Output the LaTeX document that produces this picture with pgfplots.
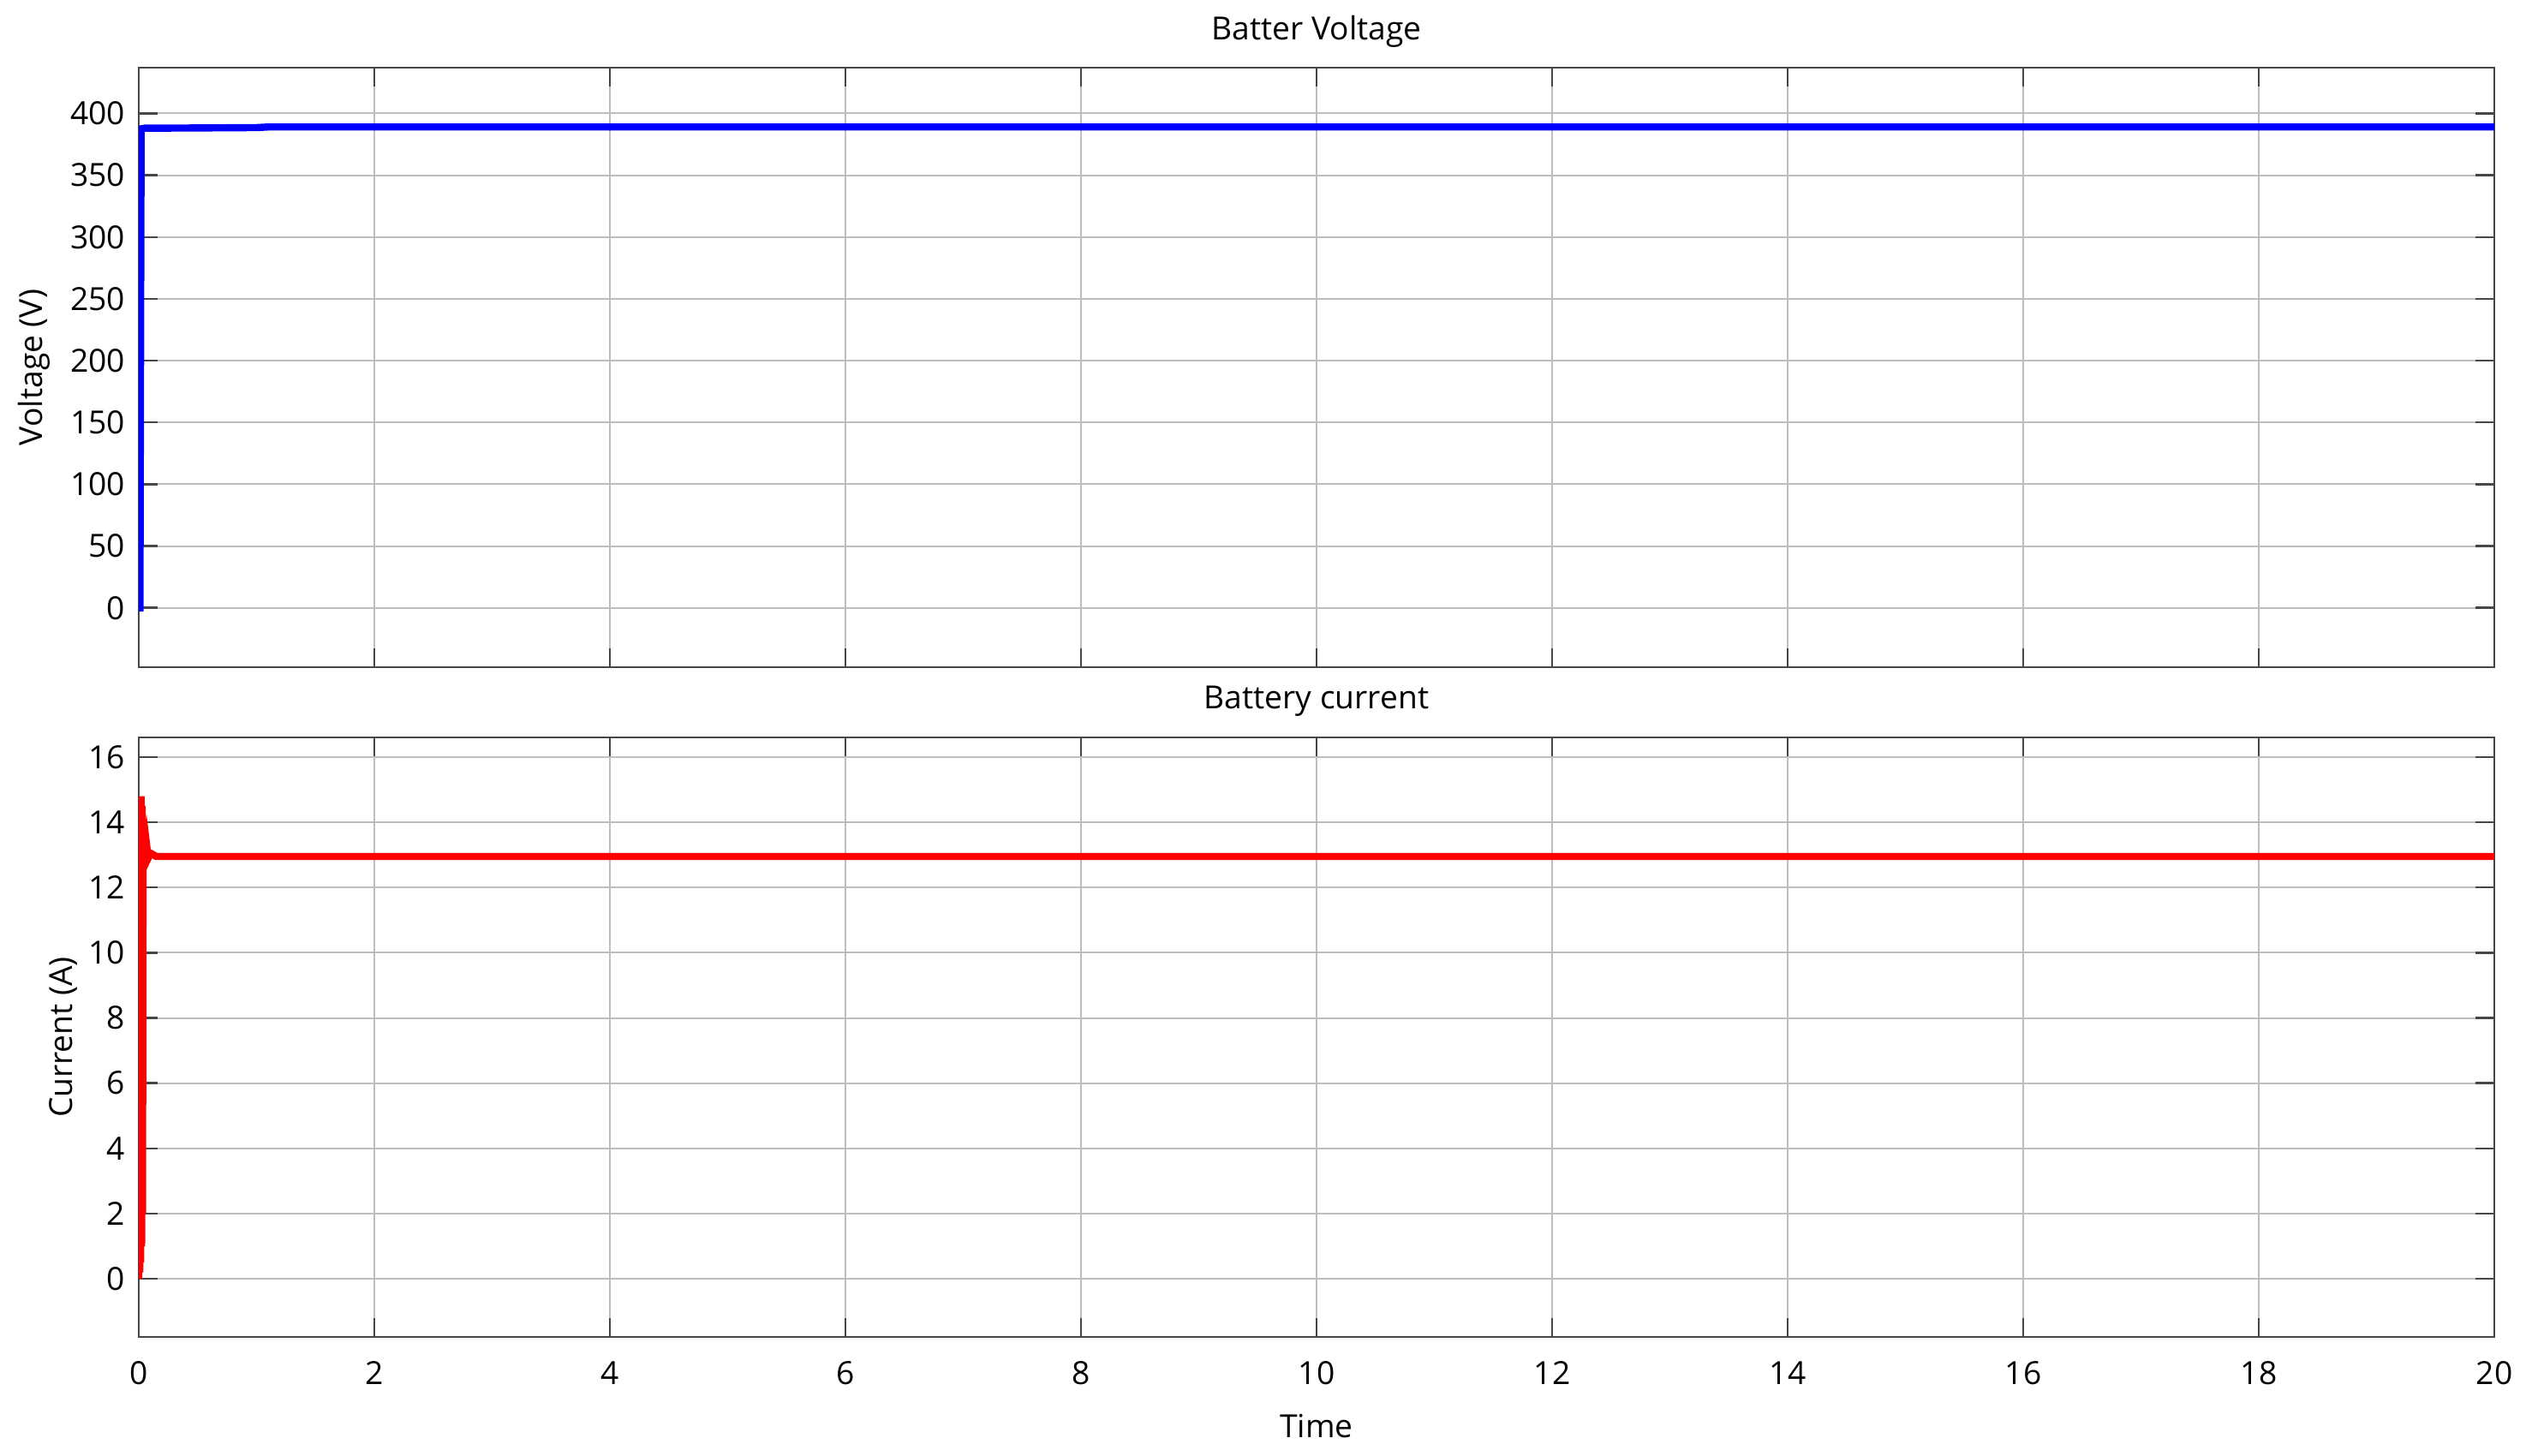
\documentclass[border=0pt]{standalone}
\usepackage{fontspec}
\setmainfont{Open Sans}
\usepackage{pgfplots}
\pgfplotsset{compat=1.18}

\definecolor{gridgray}{RGB}{190,190,190}
\definecolor{framegray}{RGB}{70,70,70}

\pgfplotsset{
  simstyle/.style={
    width=687.5pt, height=175pt, scale only axis,
    xmin=0, xmax=20,
    xtick={0,2,...,20},
    grid=major,
    major grid style={gridgray, line width=0.5pt},
    axis line style={framegray, line width=0.6pt},
    tick style={framegray, line width=0.6pt},
    tick align=inside, major tick length=5.5pt,
    /pgf/number format/assume math mode=true,
    tick label style={font=\fontsize{9.3}{11}\selectfont},
    label style={font=\fontsize{9.3}{11}\selectfont},
    title style={font=\fontsize{9.3}{11}\selectfont, at={(axis description cs:0.5,1)}, anchor=center, yshift=4.5pt},
    xticklabel style={anchor=center, yshift=-10.5pt},
    yticklabel style={xshift=-0.5pt},
  }
}

\begin{document}
\begin{tikzpicture}
\useasboundingbox (-40.5pt,-34.75pt) rectangle (696.75pt,390.25pt);

% voltage
\begin{axis}[simstyle,
  at={(0pt,195.5pt)}, anchor=south west,
  ymin=-48, ymax=437,
  ytick={0,50,...,400},
  xticklabels={},
  title={Batter Voltage},
  ylabel={Voltage (V)},
  ylabel style={at={(axis description cs:-0.0445,0.5)}, anchor=center},
]
\addplot[blue, line width=2.1pt] coordinates {
  (0,0) (0.01,0) (0.015,200) (0.02,387.5) (0.05,388) (0.5,388.2)
  (1.0,388.5) (1.1,389) (5,389) (10,389) (15,389) (20,389)
};
\end{axis}

% current
\begin{axis}[simstyle,
  at={(0pt,0pt)}, anchor=south west,
  ymin=-1.78, ymax=16.6,
  ytick={0,2,...,16},
  title={Battery current},
  xlabel={Time},
  ylabel={Current (A)},
  xlabel style={at={(axis description cs:0.5,-0.1486)}, anchor=center},
  ylabel style={at={(axis description cs:-0.032,0.5)}, anchor=center},
]
\addplot[red, line width=2.1pt] coordinates {
  (0,0) (0.004,14.8) (0.008,0.2) (0.012,14.8) (0.016,0.5) (0.02,14.8)
  (0.024,1) (0.028,14.5) (0.032,2) (0.036,14.0) (0.04,12.6) (0.045,13.4)
  (0.05,12.7) (0.055,13.3) (0.06,12.8) (0.07,13.2) (0.08,12.9) (0.1,13.05)
  (0.15,12.95) (0.3,12.95) (5,12.95) (10,12.95) (15,12.95) (20,12.95)
};
\end{axis}
\end{tikzpicture}
\end{document}
